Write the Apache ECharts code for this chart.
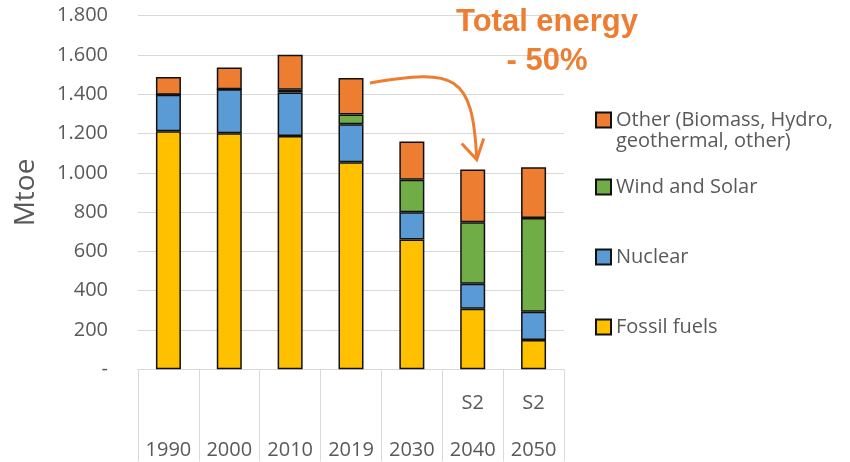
<!DOCTYPE html>
<html>

<head>
  <meta charset="utf-8" />
  <script src="https://cdn.jsdelivr.net/npm/echarts@6/dist/echarts.min.js"></script>
</head>

<body style="margin:0">
  <div id="main" style="width: 850px;height:462px;"></div>
  <script type="text/javascript">
    var years = ['1990', '2000', '2010', '2019', '2030', '2040', '2050']
    var scenario = ['', '', '', '', '', 'S2', 'S2']
    var fossil = [1212, 1202, 1188, 1054, 661, 308, 149]
    var nuclear = [185, 224, 221, 194, 138, 127, 144]
    var windSolar = [0, 0, 14, 49, 166, 313, 477]
    var other = [91, 110, 178, 186, 195, 269, 259]

    var FONT = '"Open Sans", sans-serif'
    var ORANGE = '#ED7D31'
    var myChart = echarts.init(document.getElementById('main'));

    function bar(name, data, color) {
      return {
        name: name,
        type: 'bar',
        stack: 'total',
        barWidth: 25,
        data: data,
        itemStyle: { color: color, borderColor: '#111', borderWidth: 1.5 }
      }
    }

    function legendAt(name, top) {
      return {
        data: [name],
        left: 595,
        top: top,
        padding: 0,
        itemWidth: 15,
        itemHeight: 15,
        icon: 'rect',
        selectedMode: false,
        formatter: function (n) { return n.split(' geothermal')[0] },
        textStyle: { fontFamily: FONT, fontSize: 20, color: '#595959' }
      }
    }

    var option = {
      animation: false,
      grid: { left: 138, right: 286, top: 15.7, bottom: 92.7, outerBoundsMode: 'none' },
      legend: [
        legendAt('Other (Biomass, Hydro, geothermal, other)', 110),
        legendAt('Wind and Solar', 177),
        legendAt('Nuclear', 247),
        legendAt('Fossil fuels', 317)
      ],
      xAxis: {
        type: 'category',
        data: years,
        axisLine: { lineStyle: { color: '#d9d9d9' } },
        axisTick: { show: true, length: 92, interval: 0, lineStyle: { color: '#d9d9d9' } },
        axisLabel: {
          interval: 0,
          margin: 10,
          lineHeight: 47,
          fontFamily: FONT,
          fontSize: 20,
          color: '#595959',
          formatter: function (v, i) { return (scenario[i] || ' ') + '\n' + v }
        }
      },
      yAxis: {
        type: 'value',
        min: 0,
        max: 1800,
        interval: 200,
        name: 'Mtoe',
        nameLocation: 'middle',
        nameGap: 98,
        nameTextStyle: { fontFamily: FONT, fontSize: 28, color: '#595959' },
        axisLine: { show: false },
        axisTick: { show: false },
        splitLine: { lineStyle: { color: '#d9d9d9' } },
        axisLabel: {
          margin: 30,
          fontFamily: FONT,
          fontSize: 20,
          color: '#595959',
          formatter: function (v) {
            if (v === 0) return '-'
            return String(v).replace(/\B(?=(\d{3})+(?!\d))/g, '.')
          }
        }
      },
      series: [
        bar('Fossil fuels', fossil, '#FFC000'),
        bar('Nuclear', nuclear, '#5B9BD5'),
        bar('Wind and Solar', windSolar, '#70AD47'),
        bar('Other (Biomass, Hydro, geothermal, other)', other, ORANGE)
      ]
    };

    myChart.setOption(option);

    // annotation: arrow from the 2019 total to the 2040 total
    function total(i) { return fossil[i] + nuclear[i] + windSolar[i] + other[i] }
    var p1 = myChart.convertToPixel({ gridIndex: 0 }, [3, total(3)])
    var p2 = myChart.convertToPixel({ gridIndex: 0 }, [5, total(5)])
    var sx = p1[0] + 19, sy = p1[1] + 5
    var tx = p2[0] + 4, ty = p2[1] - 10

    myChart.setOption({
      graphic: [
        {
          type: 'text', left: 616, top: 131,
          style: { text: 'geothermal, other)', font: '20px ' + FONT, fill: '#595959' }
        },
        {
          type: 'text', x: 547, y: 22,
          style: { text: 'Total energy', font: 'bold 31px "Liberation Sans", Arial', fill: ORANGE, align: 'center', verticalAlign: 'middle' }
        },
        {
          type: 'text', x: 547, y: 61,
          style: { text: '- 50%', font: 'bold 31px "Liberation Sans", Arial', fill: ORANGE, align: 'center', verticalAlign: 'middle' }
        },
        {
          type: 'bezierCurve',
          shape: { x1: sx, y1: sy, x2: tx, y2: ty, cpx1: sx + 85, cpy1: sy - 14, cpx2: tx - 4, cpy2: sy - 10 },
          style: { stroke: ORANGE, lineWidth: 3, fill: null }
        },
        {
          type: 'polyline',
          shape: { points: [[tx - 15, ty - 16], [tx, ty], [tx + 7, ty - 21]] },
          style: { stroke: ORANGE, lineWidth: 3, fill: null }
        }
      ]
    })
  </script>
</body>

</html>
